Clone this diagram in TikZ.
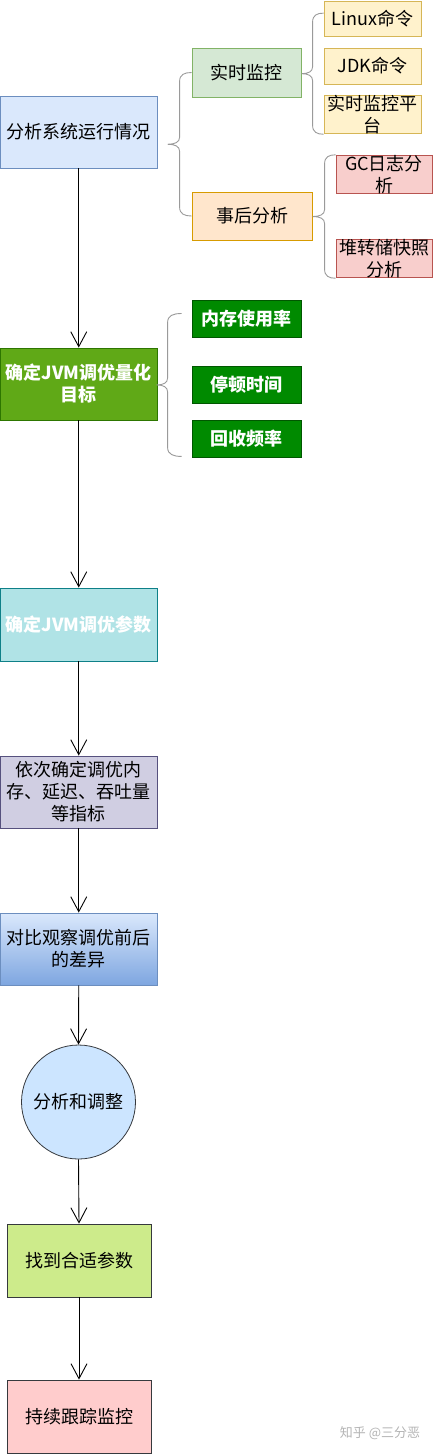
\documentclass[tikz,border=0pt]{standalone}
\usepackage{fontspec}
\setmainfont{Noto Sans CJK SC}
\usetikzlibrary{arrows.meta,calc,shapes.geometric}
\definecolor{aF}{HTML}{DAE8FC}\definecolor{aD}{HTML}{6C8EBF}
\definecolor{bF}{HTML}{D5E8D4}\definecolor{bD}{HTML}{82B366}
\definecolor{oF}{HTML}{FFE6CC}\definecolor{oD}{HTML}{D79B00}
\definecolor{yF}{HTML}{FFF2CC}\definecolor{yD}{HTML}{D6B656}
\definecolor{rF}{HTML}{F8CECC}\definecolor{rD}{HTML}{B85450}
\definecolor{gF}{HTML}{60A917}\definecolor{gD}{HTML}{2D7600}
\definecolor{dgF}{HTML}{008A00}\definecolor{dgD}{HTML}{005700}
\definecolor{cF}{HTML}{B0E3E6}\definecolor{cD}{HTML}{0E8088}
\definecolor{pF}{HTML}{D0CEE2}\definecolor{pD}{HTML}{56517E}
\definecolor{gbB}{HTML}{7EA6E0}
\definecolor{jF}{HTML}{CCE5FF}\definecolor{kF}{HTML}{CDEB8B}\definecolor{lF}{HTML}{FFCCCC}
\definecolor{dk}{HTML}{36393D}
\definecolor{brc}{HTML}{9A9A9A}
\definecolor{wm}{HTML}{B4B4B4}
\tikzset{
  box/.style={draw, line width=0.8pt, rectangle, inner sep=0pt, align=center,
    font=\fontsize{18}{22}\selectfont, text=black},
  wbox/.style={box, text=white, font=\fontsize{18}{22}\selectfont\bfseries},
  flow/.style={draw, line width=0.9pt, -{Straight Barb[length=15pt,width=16pt,line width=0.9pt]}},
  bracestyle/.style={draw=brc, line width=0.9pt},
}
\newcommand{\cbrace}[4]{%
  \draw[bracestyle] let \p1=(#1), \p2=(#2), \n1={0.5*(\y1+\y2)} in
  (\x1,\y1) .. controls (\x1-#3*0.6,\y1) and (\x1-#3,\y1-2pt) .. (\x1-#3,\y1-9pt)
  -- (\x1-#3,\n1+7pt) .. controls (\x1-#3,\n1+2pt) and (\x1-#3-#4*0.4,\n1) .. (\x1-#3-#4,\n1)
  .. controls (\x1-#3-#4*0.4,\n1) and (\x1-#3,\n1-2pt) .. (\x1-#3,\n1-7pt)
  -- (\x2-#3,\y2+9pt) .. controls (\x2-#3,\y2+2pt) and (\x2-#3*0.6,\y2) .. (\x2,\y2);}
\begin{document}
\begin{tikzpicture}[x=1pt,y=-1pt]
\useasboundingbox (0,0) rectangle (434,1454);
% main column
\node[box, fill=aF, draw=aD, minimum width=156.5, minimum height=72] (A) at (78.75,132) {分析系统运行情况};
\node[wbox, fill=gF, draw=gD, minimum width=156.5, minimum height=72] (E) at (78.75,384) {确定JVM调优量化\\目标};
\node[wbox, fill=cF, draw=cD, minimum width=156.5, minimum height=73] (G) at (78.75,624.5) {确定JVM调优参数};
\node[box, fill=pF, draw=pD, minimum width=156.5, minimum height=72] (H) at (78.75,792) {依次确定调优内\\存、延迟、吞吐量\\等指标};
\node[box, top color=aF, bottom color=gbB, draw=aD, minimum width=156.5, minimum height=72] (I) at (78.75,949) {对比观察调优前后\\的差异};
\node[box, circle, fill=jF, draw=dk, minimum size=114] (J) at (78.5,1102) {分析和调整};
\node[box, fill=kF, draw=dk, minimum width=144, minimum height=73] (K) at (79,1260.5) {找到合适参数};
\node[box, fill=lF, draw=dk, minimum width=144, minimum height=73] (L) at (79,1416.5) {持续跟踪监控};
% first-level branches
\node[box, fill=bF, draw=bD, minimum width=109, minimum height=49] (B1) at (246.5,72.5) {实时监控};
\node[box, fill=oF, draw=oD, minimum width=120, minimum height=48] (B2) at (252,216) {事后分析};
% second-level leaves
\node[box, fill=yF, draw=yD, minimum width=97, minimum height=35] (C1) at (372.5,18.5) {Linux命令};
\node[box, fill=yF, draw=yD, minimum width=97, minimum height=36] (C2) at (372.5,66) {JDK命令};
\node[box, fill=yF, draw=yD, minimum width=97, minimum height=35] (C3) at (372.5,114.5) {实时监控平\\台};
\node[box, fill=rF, draw=rD, minimum width=96, minimum height=37] (D1) at (384,174.5) {GC日志分\\析};
\node[box, fill=rF, draw=rD, minimum width=96, minimum height=37] (D2) at (384,258.5) {堆转储快照\\分析};
% goals
\node[wbox, fill=dgF, draw=dgD, minimum width=109, minimum height=37] (F1) at (246.5,318.5) {内存使用率};
\node[wbox, fill=dgF, draw=dgD, minimum width=109, minimum height=37] (F2) at (246.5,384.5) {停顿时间};
\node[wbox, fill=dgF, draw=dgD, minimum width=109, minimum height=37] (F3) at (246.5,438.5) {回收频率};
% braces
\cbrace{B1.west}{B2.west}{12pt}{12pt}
\coordinate (c1t) at ($(C1.north west)!0.35!(C1.south west)$);
\cbrace{c1t}{C3.south west}{11pt}{11pt}
\cbrace{D1.north west}{D2.south west}{11pt}{12pt}
\coordinate (f1t) at ($(F1.west)+(-10,-5)$);
\coordinate (f3b) at ($(F3.south west)+(-10,-1)$);
\cbrace{f1t}{f3b}{14pt}{11pt}
% arrows
\draw[flow] (A.south) -- (E.north);
\draw[flow] (E.south) -- (G.north);
\draw[flow] (G.south) -- (H.north);
\draw[flow] (H.south) -- (I.north);
\draw[flow] (I.south) -- (J.north);
\draw[flow] (J.south) -- (K.north);
\draw[flow] (K.south) -- (L.north);
% watermark
\node[text=wm, font=\fontsize{13}{15}\selectfont, inner sep=0pt] (wmk) at (380,1433) {知乎 @三分恶};
\end{tikzpicture}
\end{document}
